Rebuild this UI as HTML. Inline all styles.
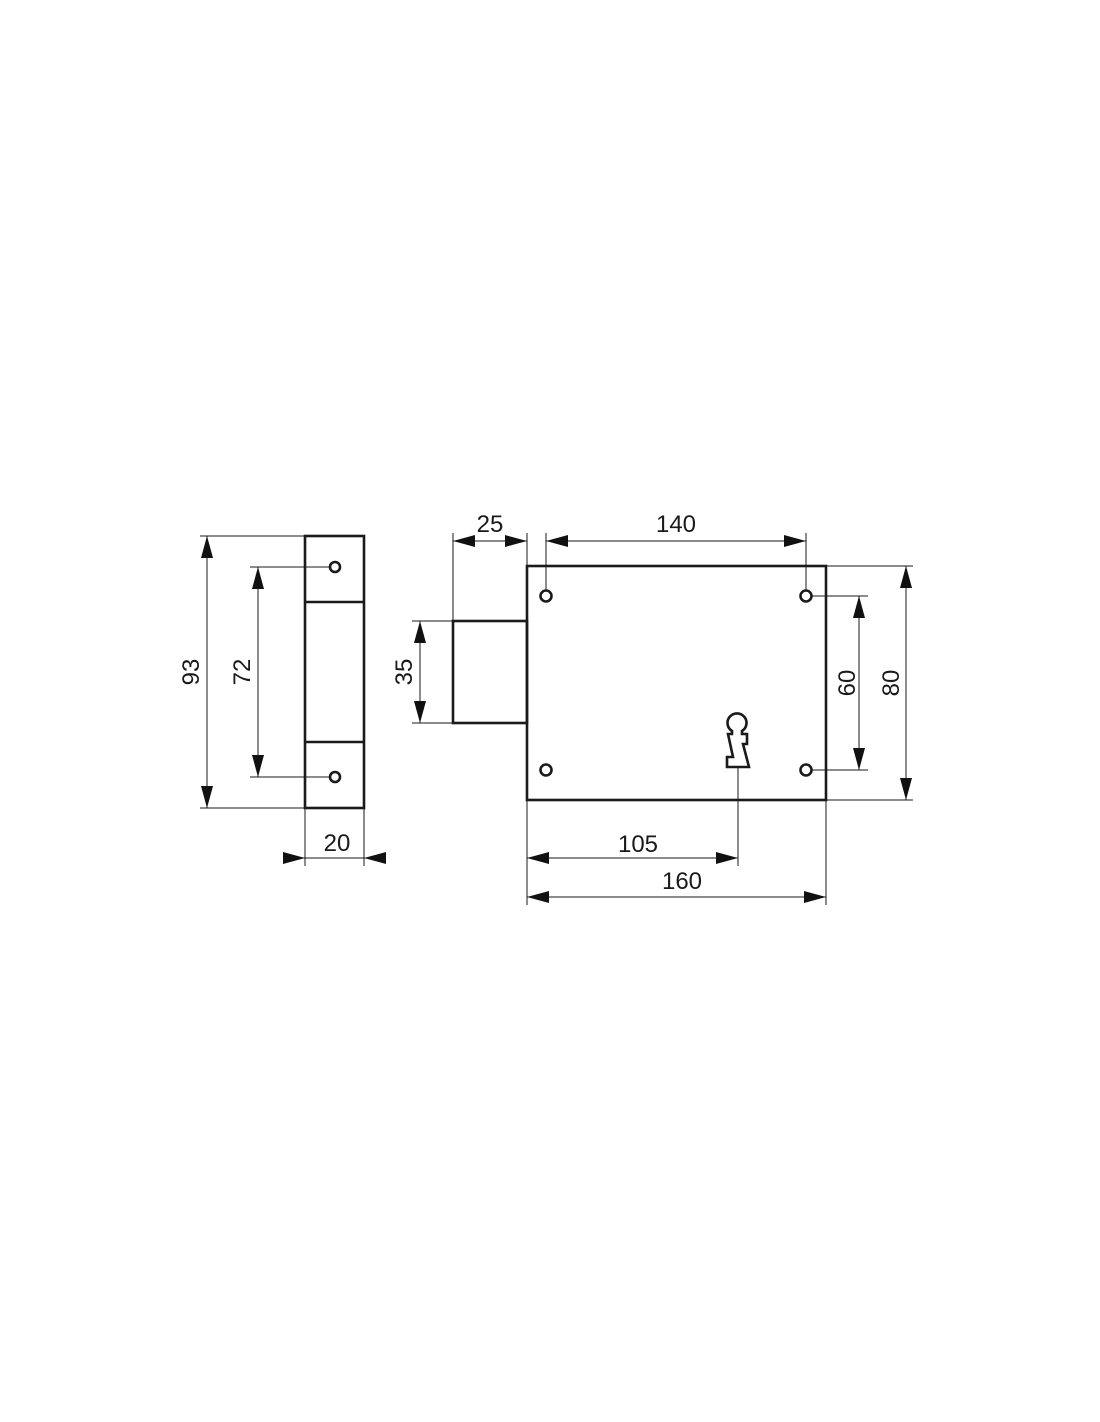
<!DOCTYPE html>
<html><head><meta charset="utf-8"><style>
html,body{margin:0;padding:0;background:#fff}
svg{display:block}
text{font-family:"Liberation Sans",sans-serif;font-size:24px;fill:#1a1a1a}
</style></head><body>
<svg width="1100" height="1422" viewBox="0 0 1100 1422" xmlns="http://www.w3.org/2000/svg">
<defs>
<marker id="a" viewBox="0 0 22 12" refX="22" refY="6" markerWidth="22" markerHeight="12" markerUnits="userSpaceOnUse" orient="auto-start-reverse"><path d="M0,0 L22,6 L0,12 Z" fill="#111"/></marker>
</defs>
<g fill="none" stroke="#1a1a1a" stroke-width="2.6">
<rect x="305" y="536" width="59" height="272"/>
<line x1="305" y1="602" x2="364" y2="602"/>
<line x1="305" y1="742" x2="364" y2="742"/>
<circle cx="335" cy="567" r="5"/>
<circle cx="335" cy="777" r="5"/>
<rect x="453" y="621" width="74" height="102"/>
<rect x="527" y="566" width="299" height="234"/>
<circle cx="546" cy="596" r="5.5"/>
<circle cx="806" cy="596" r="5.5"/>
<circle cx="546" cy="770" r="5.5"/>
<circle cx="806" cy="770" r="5.5"/>
<path d="M732,731 A9.5,9.5 0 1 1 742,731 L742,734 L747,734 L747,744 L743,744 L749,767 L727,767 L727,757 L733,757 L728,734 L732,734 Z" stroke-width="2.6"/>
</g>
<g stroke="#1a1a1a" stroke-width="1" fill="none">
<line x1="200" y1="536" x2="305" y2="536"/>
<line x1="200" y1="808" x2="305" y2="808"/>
<line x1="250" y1="567" x2="330" y2="567"/>
<line x1="250" y1="777" x2="330" y2="777"/>
<line x1="305" y1="808" x2="305" y2="866"/>
<line x1="364" y1="808" x2="364" y2="866"/>
<line x1="412" y1="621" x2="453" y2="621"/>
<line x1="412" y1="723" x2="453" y2="723"/>
<line x1="453" y1="533" x2="453" y2="621"/>
<line x1="527" y1="533" x2="527" y2="566"/>
<line x1="546" y1="533" x2="546" y2="591"/>
<line x1="806" y1="533" x2="806" y2="591"/>
<line x1="811" y1="596" x2="868" y2="596"/>
<line x1="811" y1="770" x2="868" y2="770"/>
<line x1="826" y1="566" x2="913" y2="566"/>
<line x1="826" y1="800" x2="913" y2="800"/>
<line x1="738" y1="768" x2="738" y2="866"/>
<line x1="527" y1="800" x2="527" y2="905"/>
<line x1="826" y1="800" x2="826" y2="905"/>
<line x1="207" y1="536" x2="207" y2="808" marker-start="url(#a)" marker-end="url(#a)"/>
<line x1="258" y1="567" x2="258" y2="777" marker-start="url(#a)" marker-end="url(#a)"/>
<line x1="284" y1="858" x2="305" y2="858" marker-end="url(#a)"/>
<line x1="386" y1="858" x2="364" y2="858" marker-end="url(#a)"/>
<line x1="305" y1="858" x2="364" y2="858"/>
<line x1="420" y1="621" x2="420" y2="723" marker-start="url(#a)" marker-end="url(#a)"/>
<line x1="453" y1="541" x2="527" y2="541" marker-start="url(#a)" marker-end="url(#a)"/>
<line x1="546" y1="541" x2="806" y2="541" marker-start="url(#a)" marker-end="url(#a)"/>
<line x1="859" y1="596" x2="859" y2="770" marker-start="url(#a)" marker-end="url(#a)"/>
<line x1="906" y1="566" x2="906" y2="800" marker-start="url(#a)" marker-end="url(#a)"/>
<line x1="527" y1="858" x2="738" y2="858" marker-start="url(#a)" marker-end="url(#a)"/>
<line x1="527" y1="897" x2="826" y2="897" marker-start="url(#a)" marker-end="url(#a)"/>
</g>
<g text-anchor="middle">
<text x="0" y="0" transform="translate(199,672) rotate(-90)">93</text>
<text x="0" y="0" transform="translate(250,672) rotate(-90)">72</text>
<text x="337" y="851">20</text>
<text x="0" y="0" transform="translate(412,672) rotate(-90)">35</text>
<text x="490" y="532">25</text>
<text x="676" y="532">140</text>
<text x="0" y="0" transform="translate(855,683) rotate(-90)">60</text>
<text x="0" y="0" transform="translate(899,683) rotate(-90)">80</text>
<text x="638" y="852">105</text>
<text x="682" y="889">160</text>
</g>
</svg>
</body></html>
